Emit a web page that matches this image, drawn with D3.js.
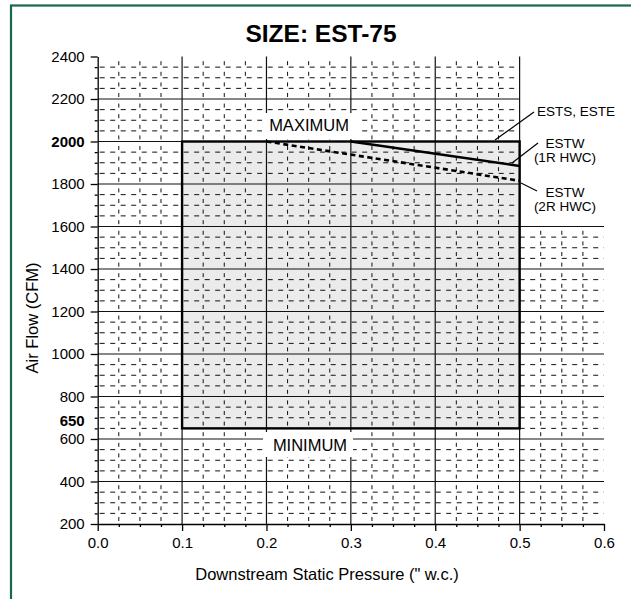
<!DOCTYPE html>
<html>
<head>
<meta charset="utf-8">
<script src="https://cdn.jsdelivr.net/npm/d3@7"></script>
<style>
  body { margin: 0; background: #fff; }
  svg { display: block; font-family: "Liberation Sans", Arial, Helvetica, sans-serif; }
</style>
</head>
<body>
<div id="chart"></div>
<script>
// chart values
var xTicks       = [0.0, 0.1, 0.2, 0.3, 0.4, 0.5, 0.6];
var yTicks       = [200, 400, 600, 800, 1000, 1200, 1400, 1600, 1800, 2000, 2200, 2400];
var yBoldTicks   = [650, 2000];
var envelopeX    = [0.1, 0.5];
var envelopeY    = [650, 2000];
var estw1rX      = [0.3, 0.5];
var estw1rY      = [2000, 1885];
var estw2rX      = [0.2, 0.5];
var estw2rY      = [2000, 1815];

drawChart();

function drawChart() {

  var w = 631;
  var h = 599;

  var svg = d3.select('#chart').append('svg')
              .attr('width', w)
              .attr('height', h);

  var x = d3.scaleLinear().domain([0, 0.6]).range([97.7, 604]);
  var y = d3.scaleLinear().domain([200, 2400]).range([524, 56.5]);

  // green frame (right and bottom fall outside the picture)
  svg.append('rect')
     .attr('x', 11).attr('y', 5.5)
     .attr('width', 640).attr('height', 620)
     .attr('fill', 'none')
     .attr('stroke', '#17694d')
     .attr('stroke-width', 2.2);

  // grey operating envelope
  svg.append('rect')
     .attr('x', x(envelopeX[0]))
     .attr('y', y(envelopeY[1]))
     .attr('width', x(envelopeX[1]) - x(envelopeX[0]))
     .attr('height', y(envelopeY[0]) - y(envelopeY[1]))
     .attr('fill', '#ebebeb');

  var grid = svg.append('g');

  // minor grid, every 50 CFM and every 0.025
  var minorY = d3.range(250, 2400, 50).filter(function(d) { return d % 200 != 0; });
  var minorX = d3.range(1, 24).map(function(i) { return i * 0.025; })
                 .filter(function(d, i) { return (i + 1) % 4 != 0; });

  grid.selectAll('.minorH')
      .data(minorY)
      .enter()
      .append('line')
      .attr('x1', x(0))
      .attr('x2', function(d) { return d > 1600 ? x(0.5) : x(0.6); })
      .attr('y1', function(d) { return y(d); })
      .attr('y2', function(d) { return y(d); })
      .attr('stroke', '#111')
      .attr('stroke-width', 1)
      .attr('stroke-dasharray', '5,5.5')
      .attr('stroke-dashoffset', -2);

  grid.selectAll('.minorV')
      .data(minorX)
      .enter()
      .append('line')
      .attr('x1', function(d) { return x(d); })
      .attr('x2', function(d) { return x(d); })
      .attr('y1', y(200))
      .attr('y2', function(d) { return d > 0.5 ? y(1600) : y(2400); })
      .attr('stroke', '#111')
      .attr('stroke-width', 1)
      .attr('stroke-dasharray', '4,6.6')
      .attr('stroke-dashoffset', -3);

  // major grid
  grid.selectAll('.majorH')
      .data(yTicks.filter(function(d) { return d > 200 && d < 2400; }))
      .enter()
      .append('line')
      .attr('x1', x(0))
      .attr('x2', function(d) { return d > 1600 ? x(0.5) : x(0.6); })
      .attr('y1', function(d) { return y(d); })
      .attr('y2', function(d) { return y(d); })
      .attr('stroke', '#111')
      .attr('stroke-width', 1.2);

  grid.selectAll('.majorV')
      .data(xTicks.filter(function(d) { return d > 0 && d < 0.6; }))
      .enter()
      .append('line')
      .attr('x1', function(d) { return x(d); })
      .attr('x2', function(d) { return x(d); })
      .attr('y1', y(200))
      .attr('y2', y(2400))
      .attr('stroke', '#111')
      .attr('stroke-width', 1.2);

  // envelope outline
  svg.append('rect')
     .attr('x', x(envelopeX[0]))
     .attr('y', y(envelopeY[1]))
     .attr('width', x(envelopeX[1]) - x(envelopeX[0]))
     .attr('height', y(envelopeY[0]) - y(envelopeY[1]))
     .attr('fill', 'none')
     .attr('stroke', '#000')
     .attr('stroke-width', 2.4);

  var line = d3.line()
               .x(function(d) { return x(d[0]); })
               .y(function(d) { return y(d[1]); });

  svg.append('path')
     .attr('d', line(d3.zip(estw1rX, estw1rY)))
     .attr('fill', 'none')
     .attr('stroke', '#000')
     .attr('stroke-width', 2.4);

  svg.append('path')
     .attr('d', line(d3.zip(estw2rX, estw2rY)))
     .attr('fill', 'none')
     .attr('stroke', '#000')
     .attr('stroke-width', 2.6)
     .attr('stroke-dasharray', '5,3.5');

  // MAXIMUM / MINIMUM labels with white backing
  svg.append('rect')
     .attr('x', 262).attr('y', 113)
     .attr('width', 95).attr('height', 26)
     .attr('fill', '#fff');
  svg.append('text')
     .attr('x', 309).attr('y', 130.5)
     .attr('text-anchor', 'middle')
     .style('font-size', '16.5px')
     .text('MAXIMUM');

  svg.append('rect')
     .attr('x', 263).attr('y', 432)
     .attr('width', 90).attr('height', 25)
     .attr('fill', '#fff');
  svg.append('text')
     .attr('x', 310).attr('y', 450.5)
     .attr('text-anchor', 'middle')
     .style('font-size', '16.5px')
     .text('MINIMUM');

  // axes
  var yAxis = svg.append('g')
                 .attr('transform', 'translate(' + x(0) + ',0)')
                 .call(d3.axisLeft(y).tickValues(yTicks).tickSize(7).tickPadding(6)
                         .tickSizeOuter(0).tickFormat(d3.format('d')));

  svg.append('g')
     .attr('transform', 'translate(' + x(0) + ',0)')
     .call(d3.axisLeft(y).tickValues(minorY).tickSize(3).tickFormat('').tickSizeOuter(0))
     .select('.domain').remove();

  yAxis.selectAll('text')
       .style('font-size', '15px')
       .style('font-weight', function(d) { return yBoldTicks.indexOf(d) >= 0 ? 'bold' : 'normal'; });

  // bold 650 sits on its minor tick
  yAxis.append('text')
       .attr('x', -13)
       .attr('y', y(650) - 2)
       .attr('fill', '#000')
       .attr('text-anchor', 'end')
       .style('font-size', '15px')
       .style('font-weight', 'bold')
       .text('650');

  var xAxis = svg.append('g')
                 .attr('transform', 'translate(0,' + y(200) + ')')
                 .call(d3.axisBottom(x).tickValues(xTicks).tickSize(7).tickPadding(6)
                         .tickSizeOuter(0).tickFormat(d3.format('.1f')));

  svg.append('g')
     .attr('transform', 'translate(0,' + y(200) + ')')
     .call(d3.axisBottom(x).tickValues(minorX).tickSize(3).tickFormat('').tickSizeOuter(0))
     .select('.domain').remove();

  xAxis.selectAll('text').style('font-size', '15px');

  svg.selectAll('.domain, .tick line').attr('stroke', '#000').attr('stroke-width', 1.3);
  svg.selectAll('.tick text').attr('fill', '#000').style('font-family', 'inherit');

  // series labels and leaders
  var labels = svg.append('g').style('font-size', '13.5px');

  labels.append('text').attr('x', 537).attr('y', 116).text('ESTS, ESTE');
  labels.append('line')
        .attr('x1', 534).attr('y1', 112)
        .attr('x2', 495).attr('y2', 140)
        .attr('stroke', '#000').attr('stroke-width', 1.2);

  labels.append('text').attr('x', 565).attr('y', 148).attr('text-anchor', 'middle').text('ESTW');
  labels.append('text').attr('x', 565).attr('y', 162).attr('text-anchor', 'middle').text('(1R HWC)');
  labels.append('line')
        .attr('x1', 538).attr('y1', 143)
        .attr('x2', 512).attr('y2', 163)
        .attr('stroke', '#000').attr('stroke-width', 1.2);

  labels.append('text').attr('x', 565).attr('y', 197).attr('text-anchor', 'middle').text('ESTW');
  labels.append('text').attr('x', 565).attr('y', 211).attr('text-anchor', 'middle').text('(2R HWC)');
  labels.append('line')
        .attr('x1', 537).attr('y1', 191)
        .attr('x2', 521).attr('y2', 183)
        .attr('stroke', '#000').attr('stroke-width', 1.2);

  // titles
  svg.append('text')
     .attr('x', 321).attr('y', 42)
     .attr('text-anchor', 'middle')
     .style('font-size', '24.5px')
     .style('font-weight', 'bold')
     .text('SIZE: EST-75');

  svg.append('text')
     .attr('x', 327).attr('y', 580)
     .attr('text-anchor', 'middle')
     .style('font-size', '16.5px')
     .text('Downstream Static Pressure (" w.c.)');

  svg.append('text')
     .attr('transform', 'translate(38,318) rotate(-90)')
     .attr('text-anchor', 'middle')
     .style('font-size', '16.5px')
     .text('Air Flow (CFM)');
}
</script>
</body>
</html>
